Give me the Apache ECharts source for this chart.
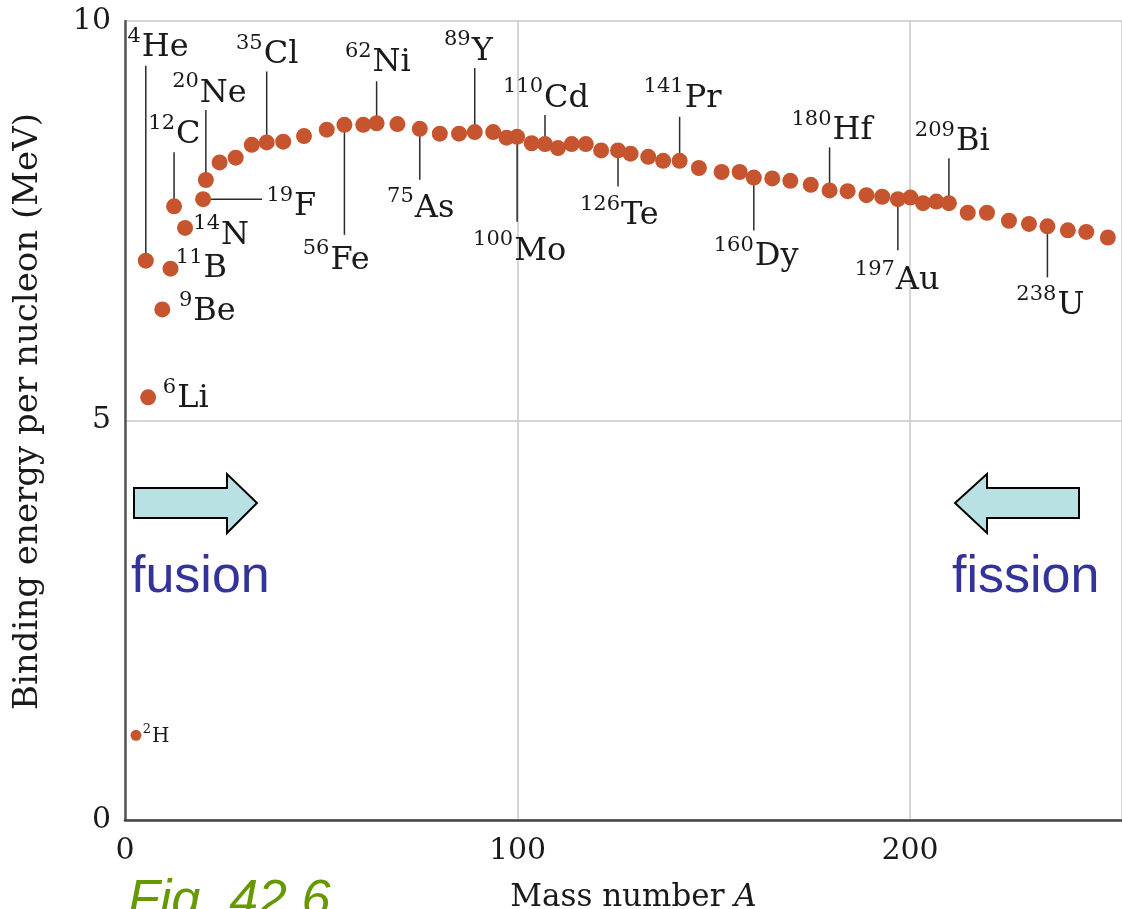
<!DOCTYPE html>
<html>
<head>
<meta charset="utf-8">
<script src="https://cdn.jsdelivr.net/npm/echarts@6/dist/echarts.min.js"></script>
<style>
  html, body { margin: 0; padding: 0; background: #fff; }
  #chart { width: 1122px; height: 909px; }
</style>
</head>
<body>
<div id="chart"></div>
<script>
// binding energy curve, one dot per nucleus
const massNumber = [2.8, 5.3, 5.9, 9.5, 11.6, 12.5, 15.3, 19.9, 20.6, 24.1, 28.2, 32.3, 36.1, 40.3, 45.6, 51.4,
  55.9, 60.7, 64.1, 69.4, 75.1, 80.2, 85.1, 89.1, 93.8, 97.2, 99.9, 103.6, 107.0, 110.3, 113.8, 117.4,
  121.3, 125.6, 128.8, 133.3, 137.1, 141.3, 146.2, 152.0, 156.6, 160.2, 164.9, 169.5, 174.7, 179.5,
  184.1, 188.9, 192.9, 196.9, 200.1, 203.3, 206.7, 209.9, 214.7, 219.6, 225.2, 230.3, 235.0, 240.2,
  244.9, 250.4];
const bindingEnergy = [1.06, 7.00, 5.29, 6.39, 6.90, 7.68, 7.41, 7.77, 8.01, 8.23, 8.29, 8.45, 8.48, 8.49, 8.56, 8.64,
  8.70, 8.70, 8.72, 8.71, 8.65, 8.59, 8.59, 8.61, 8.61, 8.54, 8.55, 8.47, 8.46, 8.41, 8.46, 8.46,
  8.38, 8.38, 8.34, 8.30, 8.25, 8.25, 8.16, 8.11, 8.11, 8.04, 8.03, 8.00, 7.95, 7.88,
  7.87, 7.82, 7.80, 7.77, 7.79, 7.72, 7.74, 7.72, 7.60, 7.60, 7.50, 7.46, 7.43, 7.38,
  7.36, 7.29];

// labelled nuclei: mass number text, symbol, index of their dot
const isoMass = ['2', '4', '6', '9', '11', '12', '14', '19', '20', '35', '56', '62', '75', '89', '100', '110', '126', '141', '160', '180', '197', '209', '238'];
const isoSymbol = ['H', 'He', 'Li', 'Be', 'B', 'C', 'N', 'F', 'Ne', 'Cl', 'Fe', 'Ni', 'As', 'Y', 'Mo', 'Cd', 'Te', 'Pr', 'Dy', 'Hf', 'Au', 'Bi', 'U'];
const isoDot = [0, 1, 2, 3, 4, 5, 6, 7, 8, 12, 16, 18, 20, 23, 26, 28, 33, 37, 41, 45, 49, 53, 58];

const xTicks = [0, 100, 200];

// label placement: [side, leader length px, symbol x shift, baseline shift]
const isoLayout = {
  H: ['right', 0, 16, 9],
  He: ['up', 195, -4, -6],
  Li: ['right', 0, 29, 13],
  Be: ['right', 0, 31, 14],
  B: ['right', 0, 33, 12],
  C: ['up', 54, 2, -6],
  N: ['right', 0, 36, 19],
  F: ['right', 59, 91, 19],
  Ne: ['up', 70, -6, -5],
  Cl: ['up', 71, -3, -5],
  Fe: ['down', 110, -14, 37],
  Ni: ['up', 42, -4, -7],
  As: ['down', 51, -5, 40],
  Y: ['up', 64, -3, -5],
  Mo: ['down', 85, -3, 41],
  Cd: ['up', 29, -1, -5],
  Te: ['down', 36, 3, 41],
  Pr: ['up', 44, 5, -7],
  Dy: ['down', 53, 1, 38],
  Hf: ['up', 43, 3, -5],
  Au: ['down', 51, -2, 42],
  Bi: ['up', 45, 7, -5],
  U: ['down', 51, 10, 40]
};

const serif = '"DejaVu Serif", serif';
const chart = echarts.init(document.getElementById('chart'));

function renderLabel(params, api) {
  const p = api.coord([api.value(0), api.value(1)]);
  const i = params.dataIndex;
  const sym = isoSymbol[i];
  const lay = isoLayout[sym];
  const small = sym === 'H';
  const big = small ? 20 : 32;
  const sup = small ? 13 : 21;
  const children = [];
  let x, base;
  const lineStyle = { stroke: '#2b2b2b', lineWidth: 1.5 };
  if (lay[0] === 'up') {
    const yEnd = p[1] - lay[1];
    children.push({ type: 'line', shape: { x1: p[0], y1: p[1], x2: p[0], y2: yEnd }, style: lineStyle });
    x = p[0] + lay[2];
    base = yEnd + lay[3];
  } else if (lay[0] === 'down') {
    const yEnd = p[1] + lay[1];
    children.push({ type: 'line', shape: { x1: p[0], y1: p[1], x2: p[0], y2: yEnd }, style: lineStyle });
    x = p[0] + lay[2];
    base = yEnd + lay[3];
  } else {
    if (lay[1] > 0) {
      children.push({ type: 'line', shape: { x1: p[0], y1: p[1], x2: p[0] + lay[1], y2: p[1] }, style: lineStyle });
    }
    x = p[0] + lay[2];
    base = p[1] + lay[3];
  }
  children.push({
    type: 'text',
    style: { text: sym, x: x, y: base - big * 0.36, font: big + 'px ' + serif, fill: '#1a1a1a', align: 'left', verticalAlign: 'middle' }
  });
  children.push({
    type: 'text',
    style: { text: isoMass[i], x: x - 1, y: base - big * 0.72, font: sup + 'px ' + serif, fill: '#1a1a1a', align: 'right', verticalAlign: 'middle' }
  });
  return { type: 'group', children: children };
}

chart.setOption({
  backgroundColor: '#fff',
  animation: false,
  grid: { left: 125, right: 0, top: 21, bottom: 89, outerBoundsMode: 'none', containLabel: false },
  xAxis: {
    type: 'value',
    min: 0,
    max: 254,
    interval: 100,
    name: '{n|Mass number }{i|A}',
    nameLocation: 'middle',
    nameGap: 62,
    nameTextStyle: {
      padding: [0, 0, 0, 20],
      rich: {
        n: { fontFamily: serif, fontSize: 31, color: '#1a1a1a' },
        i: { fontFamily: serif, fontSize: 31, fontStyle: 'italic', color: '#1a1a1a' }
      }
    },
    axisLine: { lineStyle: { color: '#444', width: 2.5 } },
    axisTick: { show: false },
    axisLabel: {
      margin: 16,
      fontFamily: serif,
      fontSize: 30,
      color: '#1a1a1a',
      formatter: v => (xTicks.indexOf(v) >= 0 ? String(v) : '')
    },
    splitLine: { show: true, lineStyle: { color: '#c8c8c8', width: 1.5 } }
  },
  yAxis: {
    type: 'value',
    min: 0,
    max: 10,
    interval: 5,
    name: 'Binding energy per nucleon (MeV)',
    nameLocation: 'middle',
    nameGap: 80,
    nameRotate: 90,
    nameTextStyle: { fontFamily: serif, fontSize: 34, color: '#1a1a1a', padding: [0, 0, 0, 18] },
    axisLine: { show: true, lineStyle: { color: '#555', width: 2.5 } },
    axisTick: { show: false },
    axisLabel: { margin: 14, fontFamily: serif, fontSize: 30, color: '#1a1a1a' },
    splitLine: { show: true, lineStyle: { color: '#c8c8c8', width: 1.5 } }
  },
  series: [
    {
      type: 'custom',
      z: 2,
      clip: false,
      encode: { x: 0, y: 1 },
      data: isoDot.map(k => [massNumber[k], bindingEnergy[k]]),
      renderItem: renderLabel
    },
    {
      type: 'scatter',
      z: 3,
      symbol: 'circle',
      symbolSize: (v, params) => (params.dataIndex === 0 ? 11 : 16),
      itemStyle: { color: '#c6552f', opacity: 1 },
      data: massNumber.map((a, i) => [a, bindingEnergy[i]])
    }
  ],
  graphic: [
    {
      type: 'polygon',
      shape: { points: [[134, 488], [227, 488], [227, 474], [257, 503], [227, 533], [227, 518], [134, 518]] },
      style: { fill: '#b9e0e3', stroke: '#000', lineWidth: 2 }
    },
    {
      type: 'polygon',
      shape: { points: [[1079, 488], [987, 488], [987, 474], [955, 503], [987, 533], [987, 518], [1079, 518]] },
      style: { fill: '#b9e0e3', stroke: '#000', lineWidth: 2 }
    },
    {
      type: 'text', left: 131, top: 552,
      style: { text: 'fusion', font: '52px "Liberation Sans", Arial, sans-serif', fill: '#333399' }
    },
    {
      type: 'text', left: 952, top: 552,
      style: { text: 'fission', font: '52px "Liberation Sans", Arial, sans-serif', fill: '#333399' }
    },
    {
      type: 'text', left: 128, top: 876,
      style: { text: 'Fig. 42.6', font: 'italic 52px "Liberation Sans", Arial, sans-serif', fill: '#669900' }
    }
  ]
});
</script>
</body>
</html>
